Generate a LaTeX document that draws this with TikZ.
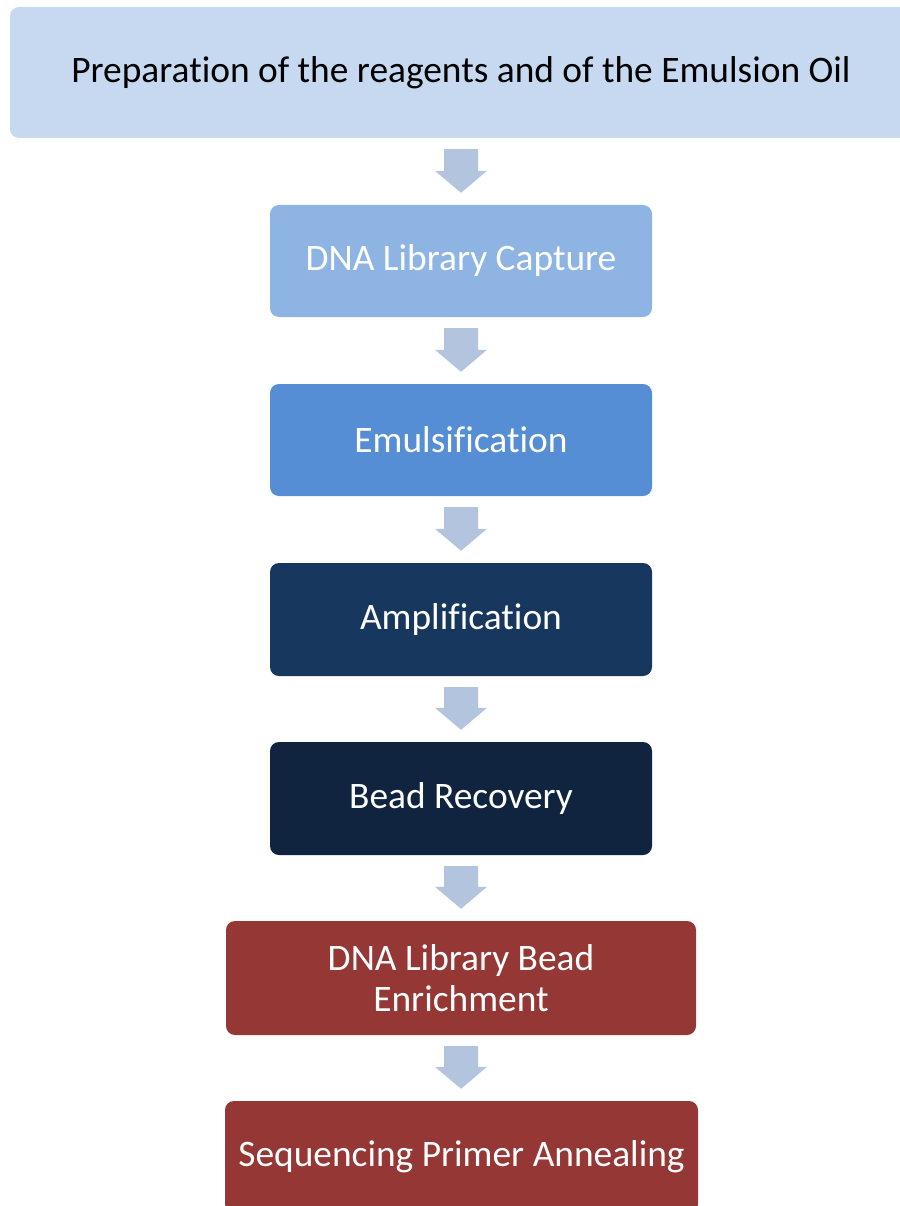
\documentclass[tikz,border=0pt]{standalone}
\usepackage{fontspec}
\setmainfont{Carlito}[Ligatures=CommonOff]
\usetikzlibrary{calc}
\definecolor{topc}{HTML}{C6D9F1}
\definecolor{capc}{HTML}{8EB4E3}
\definecolor{emuc}{HTML}{558ED5}
\definecolor{ampc}{HTML}{17375E}
\definecolor{beadc}{HTML}{10243F}
\definecolor{redc}{HTML}{953735}
\definecolor{arrc}{HTML}{B3C4DF}
\newcommand\flowarrow[2]{%
  \fill[arrc] let \p1=(#1.south), \p2=(#2.north) in
    (\x1-17pt,\y1-11pt) -- (\x1+17pt,\y1-11pt) -- (\x1+17pt,\y2+34pt)
    -- (\x1+26pt,\y2+34pt) -- (\x1,\y2+12pt) -- (\x1-26pt,\y2+34pt)
    -- (\x1-17pt,\y2+34pt) -- cycle;}
\begin{document}
\begin{tikzpicture}[x=1pt,y=-1pt,
  stepbox/.style={rounded corners=9pt, inner sep=0pt, text=white,
    font=\fontsize{37.4}{41}\selectfont, align=center}]
\useasboundingbox (0,0) rectangle (899,1206);
\node[stepbox, fill=topc, text=black, minimum width=902pt, minimum height=131pt] (prep) at (461,72.5) {Preparation of the reagents and of the Emulsion Oil};
\node[stepbox, fill=capc, minimum width=382pt, minimum height=112pt] (cap) at (461,261) {DNA Library Capture};
\node[stepbox, fill=emuc, minimum width=382pt, minimum height=112pt] (emu) at (461,440) {Emulsification};
\node[stepbox, fill=ampc, minimum width=382pt, minimum height=113pt] (amp) at (461,619.5) {Amplification};
\node[stepbox, fill=beadc, minimum width=382pt, minimum height=113pt] (rec) at (461,798.5) {Bead Recovery};
\node[stepbox, fill=redc, minimum width=470pt, minimum height=114pt] (enr) at (461,978) {DNA Library Bead\\Enrichment};
\node[stepbox, fill=redc, minimum width=473pt, minimum height=112pt] (seq) at (461.5,1157) {Sequencing Primer Annealing};
\flowarrow{prep}{cap}
\flowarrow{cap}{emu}
\flowarrow{emu}{amp}
\flowarrow{amp}{rec}
\flowarrow{rec}{enr}
\flowarrow{enr}{seq}
\end{tikzpicture}
\end{document}
